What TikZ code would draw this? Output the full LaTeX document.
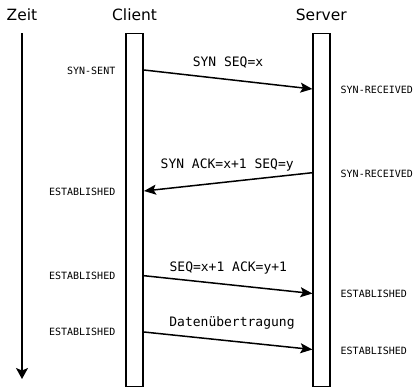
\documentclass[tikz,border=0pt]{standalone}
\usepackage{fontspec}
\setmainfont{DejaVu Sans}
\newfontfamily\monofont{DejaVu Sans Mono}
\usetikzlibrary{arrows.meta}
\begin{document}
\begin{tikzpicture}[x=1pt,y=-1pt,
  lifeline/.style={draw, line width=1.8pt, minimum width=17.2pt, minimum height=353pt, inner sep=0pt, outer sep=0pt},
  msg/.style={line width=1.5pt, -{Stealth[length=12pt,width=10pt,inset=2.5pt]}},
  msglabel/.style={font=\monofont\fontsize{13}{15}\selectfont, inner sep=0pt, anchor=base},
  statelabel/.style={font=\monofont\fontsize{10}{12}\selectfont, inner sep=0pt},
  title/.style={font=\fontsize{15.5}{18}\selectfont, inner sep=0pt, anchor=base}]
\useasboundingbox (0,0) rectangle (417,389);
% titles
\node[title] (zeit) at (22,20.7) {Zeit};
\node[title] (clienttitle) at (134.6,20.7) {Client};
\node[title] (servertitle) at (321.3,20.7) {Server};
% time axis
\coordinate (t0) at (22,33);
\coordinate (t1) at (22,379);
\draw[line width=1.6pt, -{Stealth[length=11pt,width=12pt,inset=2.5pt]}] (t0) -- (t1);
% lifelines
\node[lifeline] (client) at (134.6,210) {};
\node[lifeline] (server) at (321.3,210) {};
% message endpoints
\coordinate (c1) at (144,70);   \coordinate (s1) at (312.4,89);
\coordinate (s2) at (312.4,172.7); \coordinate (c2) at (144,191);
\coordinate (c3) at (144,275.7); \coordinate (s3) at (312.4,293.5);
\coordinate (c4) at (144,332);   \coordinate (s4) at (312.4,349.5);
\draw[msg] (c1) -- (s1);
\draw[msg] (s2) -- (c2);
\draw[msg] (c3) -- (s3);
\draw[msg] (c4) -- (s4);
% message labels
\node[msglabel] (m1) at (228,66) {SYN SEQ=x};
\node[msglabel] (m2) at (227.2,168.7) {SYN ACK=x+1 SEQ=y};
\node[msglabel] (m3) at (228.3,271) {SEQ=x+1 ACK=y+1};
\node[msglabel] (m4) at (232,326) {Datenübertragung};
% state labels client
\node[statelabel, anchor=base east] (cs1) at (115.5,74) {SYN-SENT};
\node[statelabel, anchor=base east] (cs2) at (115.5,195.7) {ESTABLISHED};
\node[statelabel, anchor=base east] (cs3) at (115.5,279.3) {ESTABLISHED};
\node[statelabel, anchor=base east] (cs4) at (115.5,335.7) {ESTABLISHED};
% state labels server
\node[statelabel, anchor=base west] (ss1) at (340.5,93) {SYN-RECEIVED};
\node[statelabel, anchor=base west] (ss2) at (340.5,177) {SYN-RECEIVED};
\node[statelabel, anchor=base west] (ss3) at (340.5,297.7) {ESTABLISHED};
\node[statelabel, anchor=base west] (ss4) at (340.5,354.3) {ESTABLISHED};
\end{tikzpicture}
\end{document}
